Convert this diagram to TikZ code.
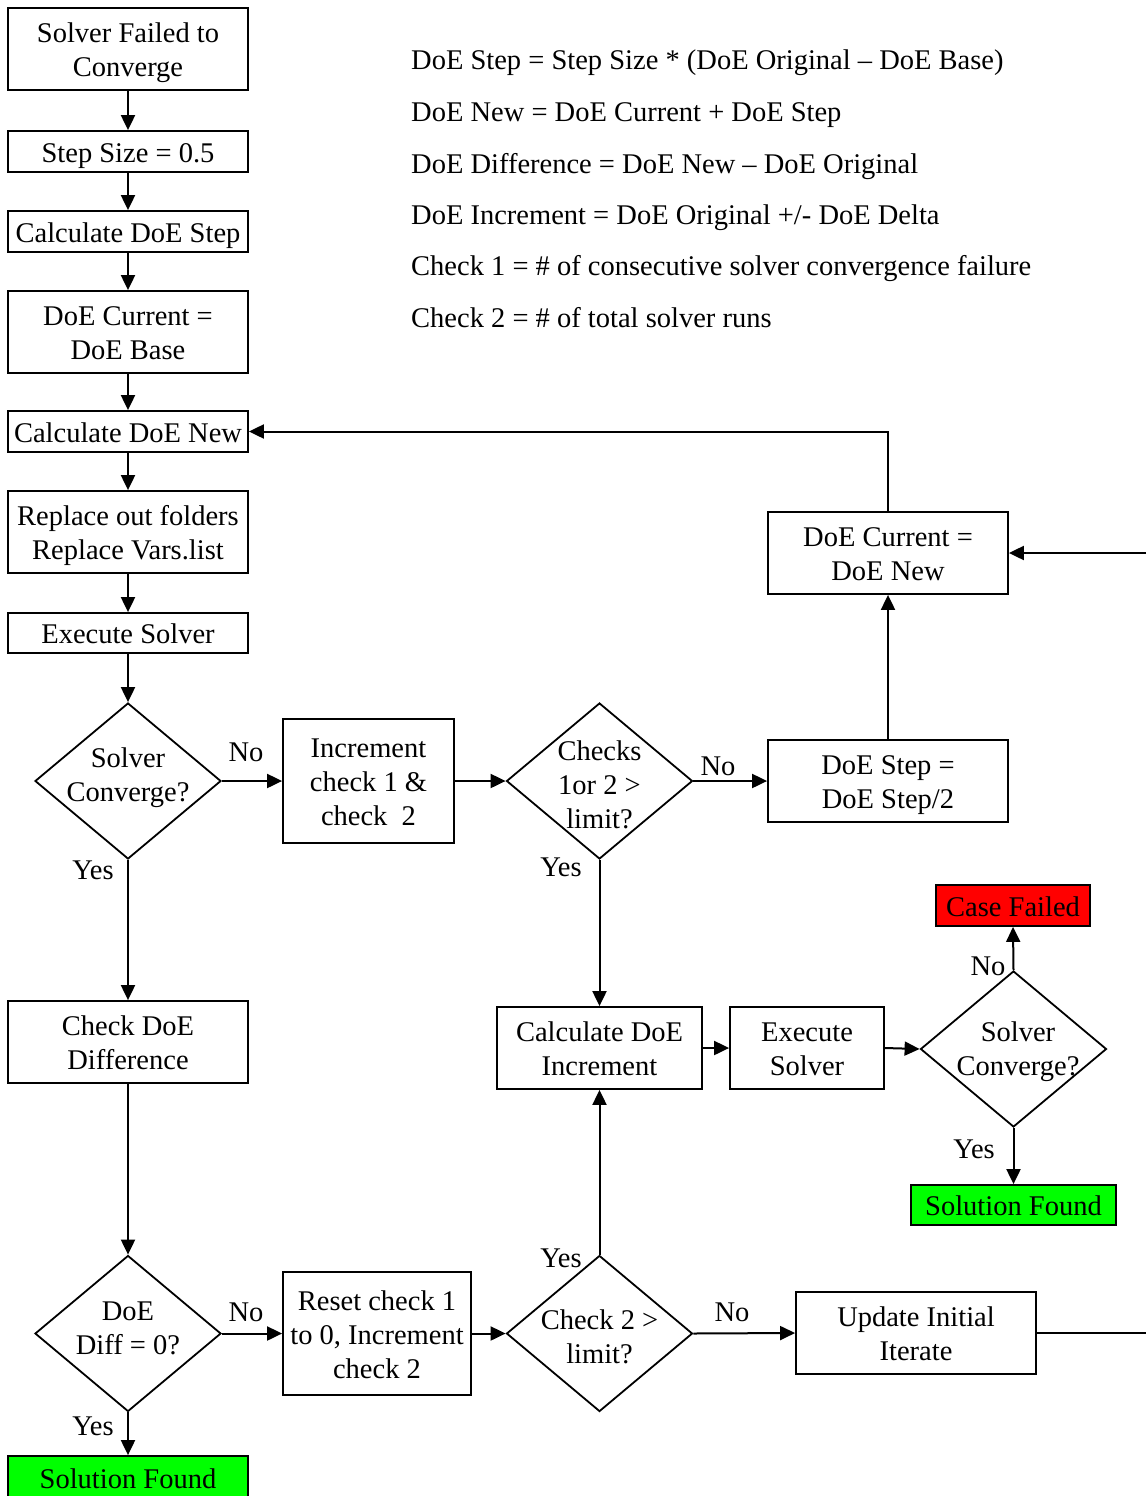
\documentclass[tikz,border=0pt]{standalone}
\usepackage{fontspec}
\setmainfont{Liberation Serif}
\usetikzlibrary{shapes.geometric,arrows.meta}
\definecolor{okgreen}{RGB}{0,255,0}
\definecolor{failred}{RGB}{255,0,0}
% fixed top of the first line and bottom of the last line of a text block
\newcommand\topstrut{\rule{0pt}{27.2pt}}
\newcommand\botstrut{\rule[-6.2pt]{0pt}{6.2pt}}
\newcommand\tb[1]{\topstrut#1\botstrut}
\begin{document}
\begin{tikzpicture}[x=1pt,y=-1pt,
  every node/.style={font=\fontsize{28.5}{34}\selectfont},
  box/.style={draw, line width=1.8pt, minimum width=240pt, minimum height=41pt,
    inner sep=1pt, align=center},
  tall/.style={box, minimum height=82pt},
  dia/.style={draw, diamond, line width=1.8pt, minimum width=186pt,
    minimum height=156pt, inner sep=0pt},
  lbl/.style={inner sep=0pt},
  dtext/.style={inner sep=0pt, align=center},
  arr/.style={line width=2pt, -{Triangle[length=15pt,width=14pt]}},
  ln/.style={line width=2pt}]
\useasboundingbox (0,0) rectangle (1146,1496);

% definitions listed at the top
\foreach \t/\y in {{DoE Step = Step Size * (DoE Original -- DoE Base)}/60,
                   {DoE New = DoE Current + DoE Step}/111,
                   {DoE Difference = DoE New -- DoE Original}/163,
                   {DoE Increment = DoE Original +/- DoE Delta}/214,
                   {Check 1 = \# of consecutive solver convergence failure}/265,
                   {Check 2 = \# of total solver runs}/317}
  \node[lbl, anchor=base west] at (411,\y+10) {\t};

% main column
\node[tall] (n1) at (128,49) {\tb{Solver Failed to\\Converge}};
\node[box] (n2) at (128,151.5) {\tb{Step Size = 0.5}};
\node[box] (n3) at (128,231.5) {\tb{Calculate DoE Step}};
\node[tall] (n4) at (128,332) {\tb{DoE Current =\\DoE Base}};
\node[box] (n5) at (128,431.5) {\tb{Calculate DoE New}};
\node[tall] (n6) at (128,532) {\tb{Replace out folders\\Replace Vars.list}};
\node[box, minimum height=40pt] (n7) at (128,633) {\tb{Execute Solver}};
\node[dia] (d1) at (128,781) {};
\node[dtext] at (128,774) {\tb{Solver\\Converge?}};
\node[tall] (n9) at (128,1042) {\tb{Check DoE\\Difference}};
\node[dia] (d2) at (128,1333.5) {};
\node[dtext] at (128,1327) {\tb{DoE\\Diff = 0?}};
\node[box, fill=okgreen, minimum height=44pt] (n11) at (128,1478) {\tb{Solution Found}};

% retry loop
\node[box, minimum width=171pt, minimum height=124pt] (m1) at (368.5,781) {\tb{Increment\\check 1 \&\\check\ \ 2}};
\node[dia] (d3) at (599.5,781) {};
\node[dtext] at (599.5,784) {\tb{Checks\\1or 2 >\\limit?}};
\node[tall] (r1) at (888,781) {\tb{DoE Step =\\DoE Step/2}};
\node[tall] (r2) at (888,553) {\tb{DoE Current =\\DoE New}};

% increment branch
\node[tall, minimum width=205pt] (c1) at (599.5,1048) {\tb{Calculate DoE\\Increment}};
\node[tall, minimum width=154pt] (c2) at (807,1048) {\tb{Execute\\Solver}};
\node[dia] (d4) at (1013.5,1049) {};
\node[dtext] at (1018,1048) {\tb{Solver\\Converge?}};
\node[box, fill=failred, minimum width=154pt] (cf) at (1013,905.5) {\tb{Case Failed}};
\node[box, fill=okgreen, minimum width=205pt, minimum height=40pt] (sf) at (1013.5,1205) {\tb{Solution Found}};

% difference branch
\node[box, minimum width=188pt, minimum height=123pt] (b1) at (377,1333.5) {\tb{Reset check 1\\to 0, Increment\\check 2}};
\node[dia] (d5) at (599.5,1333.5) {};
\node[dtext] at (599.5,1336) {\tb{Check 2 >\\limit?}};
\node[tall] (u1) at (916,1333) {\tb{Update Initial\\Iterate}};

\coordinate (e1) at (1146,553);
\coordinate (e2) at (1146,1333);

% connectors
\draw[arr] (n1) -- (n2);
\draw[arr] (n2) -- (n3);
\draw[arr] (n3) -- (n4);
\draw[arr] (n4) -- (n5);
\draw[arr] (n5) -- (n6);
\draw[arr] (n6) -- (n7);
\draw[arr] (n7) -- (d1.north);
\draw[arr] (d1.south) -- (n9);
\draw[arr] (n9) -- (d2.north);
\draw[arr] (d2.south) -- (n11);
\draw[arr] (d1.east) -- (m1.west);
\draw[arr] (m1.east) -- (d3.west);
\draw[arr] (d3.east) -- (r1.west);
\draw[arr] (r1) -- (r2);
\draw[arr] (r2.north) |- (n5.east);
\draw[arr] (e1) -- (r2.east);
\draw[arr] (d3.south) -- (c1.north);
\draw[arr] (c1) -- (c2);
\draw[arr] (c2.east) -- (d4.west);
\draw[arr] (d4.north) -- (cf.south);
\draw[arr] (d4.south) -- (sf.north);
\draw[arr] (d2.east) -- (b1.west);
\draw[arr] (b1.east) -- (d5.west);
\draw[arr] (d5.north) -- (c1.south);
\draw[arr] (d5.east) -- (u1.west);
\draw[ln] (u1.east) -- (e2);

% branch labels
\node[lbl] at (246,752) {No};
\node[lbl] at (93,870) {Yes};
\node[lbl] at (718,766) {No};
\node[lbl] at (561,867) {Yes};
\node[lbl] at (988,966) {No};
\node[lbl] at (974,1149) {Yes};
\node[lbl] at (246,1312) {No};
\node[lbl] at (93,1426) {Yes};
\node[lbl] at (561,1258) {Yes};
\node[lbl] at (732,1312) {No};
\end{tikzpicture}
\end{document}
